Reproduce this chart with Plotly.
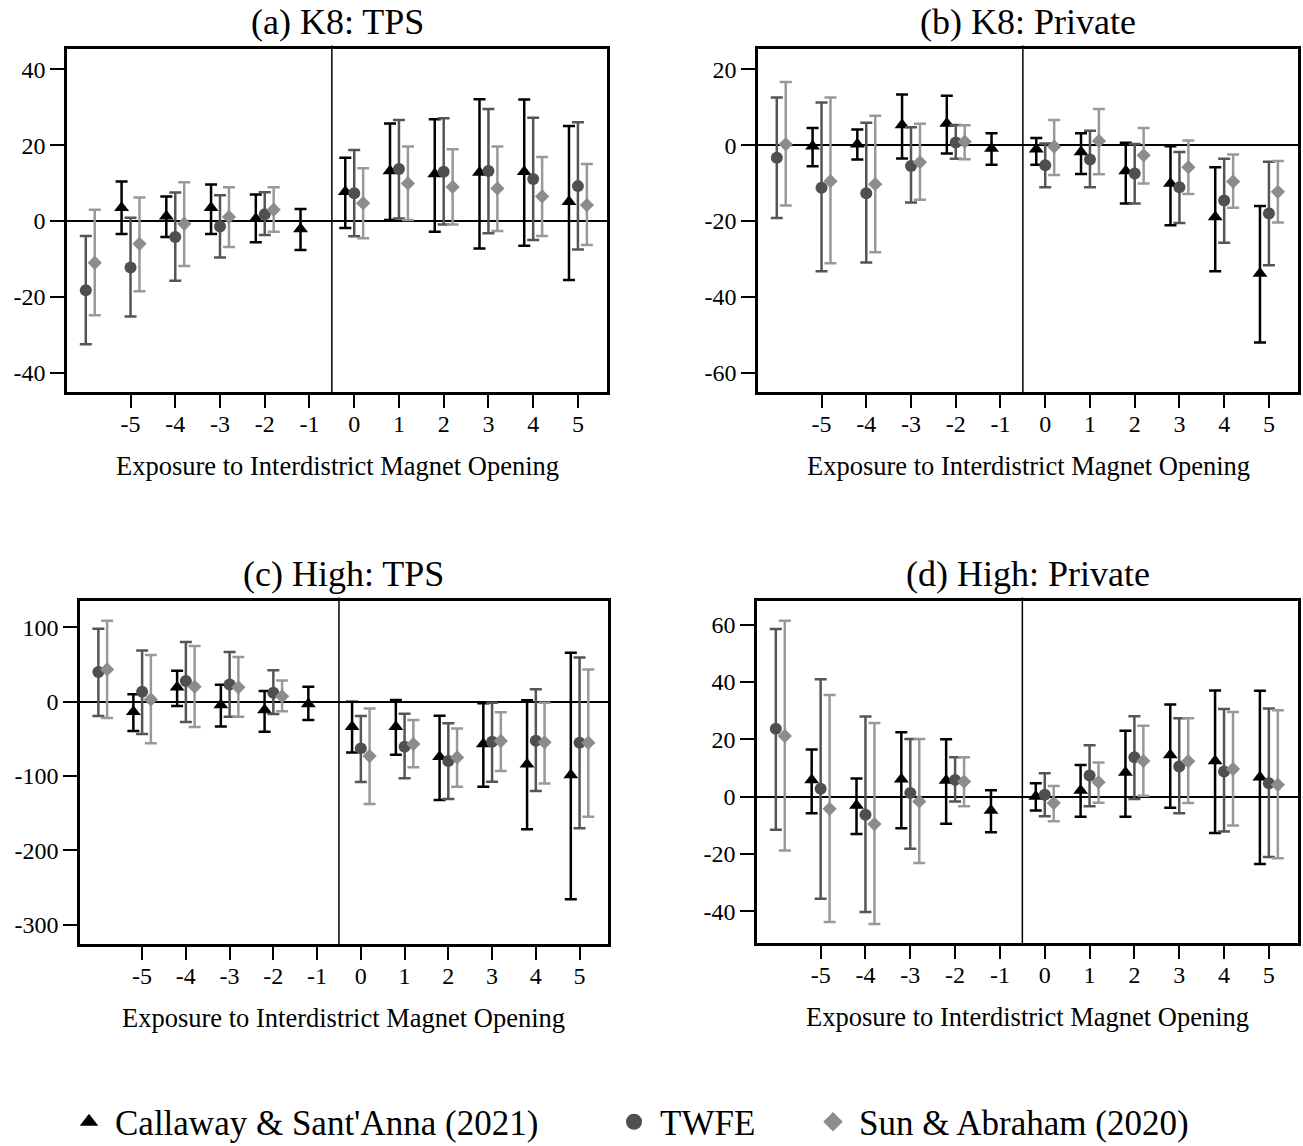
import plotly.graph_objects as go

# Event times: Callaway & Sant'Anna reports -5..5, TWFE and Sun & Abraham bin -6 and omit -1
cs_times = [-5, -4, -3, -2, -1, 0, 1, 2, 3, 4, 5]
tw_times = [-6, -5, -4, -3, -2, 0, 1, 2, 3, 4, 5]
tick_vals = [-5, -4, -3, -2, -1, 0, 1, 2, 3, 4, 5]
tick_text = ["-5", "-4", "-3", "-2", "-1", "0", "1", "2", "3", "4", "5"]

# (a) K8: TPS
a_cs_est = [3.5, 1.3, 3.5, 0.6, -2.1, 7.7, 13.2, 12.4, 12.8, 13.0, 5.1]
a_cs_lo = [-3.4, -4.2, -3.4, -5.6, -7.6, -1.8, 0.3, -2.8, -7.2, -6.5, -15.5]
a_cs_hi = [10.4, 6.5, 9.6, 7.0, 3.2, 16.7, 25.7, 26.8, 32.1, 32.0, 25.0]
a_tw_est = [-18.2, -12.2, -4.2, -1.4, 1.8, 7.3, 13.7, 13.0, 13.2, 11.1, 9.2]
a_tw_lo = [-32.4, -25.1, -15.7, -9.6, -3.7, -4.0, 0.7, -0.9, -3.2, -5.0, -7.5]
a_tw_hi = [-3.9, 0.9, 7.5, 6.8, 7.6, 18.7, 26.6, 27.1, 29.5, 27.2, 26.0]
a_sa_est = [-11.0, -6.0, -0.7, 1.1, 3.0, 4.7, 9.9, 9.0, 8.6, 6.5, 4.2]
a_sa_lo = [-24.8, -18.5, -11.8, -6.8, -2.8, -4.5, 0.3, -0.9, -2.6, -3.9, -6.3]
a_sa_hi = [3.0, 6.2, 10.2, 8.9, 8.9, 13.9, 19.6, 18.9, 19.6, 16.9, 15.0]

# (b) K8: Private
b_cs_est = [-0.3, 0.2, 5.3, 5.7, -0.9, -1.1, -1.8, -6.8, -10.1, -18.9, -33.8]
b_cs_lo = [-5.6, -3.8, -3.5, -2.2, -5.2, -5.2, -7.6, -15.4, -21.1, -33.2, -52.0]
b_cs_hi = [4.5, 4.1, 13.3, 13.0, 3.1, 1.9, 3.1, 0.6, -0.3, -5.8, -16.0]
b_tw_est = [-3.3, -11.2, -12.7, -5.5, 0.7, -5.3, -3.8, -7.5, -11.1, -14.6, -18.0]
b_tw_lo = [-19.2, -33.2, -30.9, -15.1, -3.6, -11.1, -11.1, -15.4, -20.5, -25.7, -31.6]
b_tw_hi = [12.5, 11.2, 5.9, 4.7, 5.3, 0.4, 3.8, 0.3, -1.8, -3.6, -4.4]
b_sa_est = [0.2, -9.5, -10.3, -4.5, 0.9, -0.4, 1.1, -2.7, -5.8, -9.6, -12.3]
b_sa_lo = [-15.9, -31.1, -28.2, -14.4, -3.7, -7.9, -7.7, -10.1, -12.9, -16.5, -20.4]
b_sa_hi = [16.6, 12.5, 7.7, 5.6, 5.2, 6.6, 9.5, 4.5, 1.2, -2.5, -4.2]

# (c) High: TPS
c_cs_est = [-13.5, 19.3, -4.5, -11.2, -3.1, -33.6, -33.6, -74.0, -57.0, -84.3, -98.7]
c_cs_lo = [-39.5, -5.8, -33.2, -40.4, -24.7, -68.2, -71.3, -132.3, -114.3, -171.7, -265.9]
c_cs_hi = [9.9, 41.7, 22.9, 14.3, 20.2, 0.0, 2.2, -18.8, -2.2, 1.8, 65.9]
c_tw_est = [39.9, 13.5, 27.8, 23.3, 12.1, -62.8, -60.5, -79.8, -53.8, -52.5, -55.2]
c_tw_lo = [-19.3, -43.5, -27.4, -20.2, -16.6, -108.0, -103.0, -131.0, -107.6, -120.2, -170.4]
c_tw_hi = [98.2, 69.0, 80.3, 66.8, 42.2, -19.3, -16.1, -29.1, -1.3, 16.6, 59.6]
c_sa_est = [43.5, 3.1, 20.2, 19.3, 7.2, -73.1, -57.0, -74.9, -52.9, -54.7, -55.2]
c_sa_lo = [-22.0, -56.0, -34.1, -20.2, -13.0, -137.7, -88.3, -114.3, -93.3, -109.9, -154.7]
c_sa_hi = [109.0, 62.8, 74.9, 60.1, 28.7, -9.0, -24.7, -35.9, -14.3, -1.3, 43.5]

# (d) High: Private
d_cs_est = [5.8, -3.1, 6.0, 5.6, -4.9, 0.0, 2.1, 8.4, 14.5, 12.4, 6.7]
d_cs_lo = [-5.8, -13.1, -11.1, -9.5, -12.5, -4.9, -7.1, -7.1, -3.9, -12.7, -23.5]
d_cs_hi = [16.4, 6.3, 22.4, 20.0, 2.2, 4.6, 11.0, 22.9, 32.1, 37.0, 36.9]
d_tw_est = [23.6, 2.7, -6.4, 1.2, 5.8, 0.6, 7.3, 13.7, 10.5, 8.7, 4.6]
d_tw_lo = [-11.6, -35.7, -40.3, -18.2, -1.7, -6.9, -3.4, -0.9, -5.8, -12.2, -21.1]
d_tw_hi = [58.4, 40.9, 27.9, 20.1, 13.7, 8.1, 17.9, 28.0, 27.3, 30.5, 30.7]
d_sa_est = [21.1, -4.3, -9.6, -1.7, 5.2, -2.3, 5.0, 12.4, 12.3, 9.6, 4.1]
d_sa_lo = [-18.8, -43.8, -44.5, -23.2, -3.4, -8.6, -2.2, 0.3, -2.3, -10.1, -21.5]
d_sa_hi = [61.3, 35.4, 25.6, 20.1, 13.7, 3.7, 11.9, 24.7, 27.3, 29.5, 30.1]

panel_titles = ["(a) K8: TPS", "(b) K8: Private", "(c) High: TPS", "(d) High: Private"]
x_title = "Exposure to Interdistrict Magnet Opening"
legend_names = ["Callaway & Sant'Anna (2021)", "TWFE", "Sun & Abraham (2020)"]

a_yticks = [-40, -20, 0, 20, 40]
b_yticks = [-60, -40, -20, 0, 20]
c_yticks = [-300, -200, -100, 0, 100]
d_yticks = [-40, -20, 0, 20, 40, 60]

FONT = "Liberation Serif"
W, H = 1303, 1146

# panel geometry in pixels: (left, right, top, bottom), y range
panels = [
    dict(box=(67, 607, 49, 392), yr=[-45.0, 45.3], yt=a_yticks,
         cs=(a_cs_est, a_cs_lo, a_cs_hi), tw=(a_tw_est, a_tw_lo, a_tw_hi), sa=(a_sa_est, a_sa_lo, a_sa_hi)),
    dict(box=(758, 1298, 49, 392), yr=[-65.0, 25.3], yt=b_yticks,
         cs=(b_cs_est, b_cs_lo, b_cs_hi), tw=(b_tw_est, b_tw_lo, b_tw_hi), sa=(b_sa_est, b_sa_lo, b_sa_hi)),
    dict(box=(80, 608, 601, 944), yr=[-326.0, 135.5], yt=c_yticks,
         cs=(c_cs_est, c_cs_lo, c_cs_hi), tw=(c_tw_est, c_tw_lo, c_tw_hi), sa=(c_sa_est, c_sa_lo, c_sa_hi)),
    dict(box=(757, 1298, 601, 943), yr=[-51.1, 68.2], yt=d_yticks,
         cs=(d_cs_est, d_cs_lo, d_cs_hi), tw=(d_tw_est, d_tw_lo, d_tw_hi), sa=(d_sa_est, d_sa_lo, d_sa_hi)),
]

series_style = [
    # key, times, x offset, marker symbol, size, marker colour, bar colour
    ("cs", cs_times, -0.2, "triangle-up", 13, "#000000", "#000000"),
    ("tw", tw_times, 0.0, "circle", 12, "#4f4f4f", "#555555"),
    ("sa", tw_times, 0.2, "diamond", 11, "#8c8c8c", "#999999"),
]

fig = go.Figure()
layout = {}
annotations = []
shapes = []

for i, p in enumerate(panels):
    n = "" if i == 0 else str(i + 1)
    xa, ya = "x" + n, "y" + n
    l, r, t, b = p["box"]
    xdom = [l / W, r / W]
    ydom = [1 - b / H, 1 - t / H]
    for key, times, off, sym, size, mcol, bcol in series_style:
        est, lo, hi = p[key]
        fig.add_trace(go.Scatter(
            x=[k + off for k in times], y=est, mode="markers",
            marker=dict(symbol=sym, size=size, color=mcol, line=dict(width=0)),
            error_y=dict(type="data", symmetric=False,
                         array=[h - e for h, e in zip(hi, est)],
                         arrayminus=[e - lo_ for e, lo_ in zip(est, lo)],
                         color=bcol, thickness=2.5, width=6),
            xaxis=xa, yaxis=ya, showlegend=False, hoverinfo="skip"))
    layout["xaxis" + n] = dict(
        domain=xdom, anchor=ya, range=[-6.42, 5.65], tickvals=tick_vals, ticktext=tick_text,
        ticks="outside", ticklen=13, tickwidth=2, tickcolor="black", ticklabelstandoff=-5,
        showline=True, mirror=True, linewidth=2.5, linecolor="black",
        showgrid=False, zeroline=False, tickfont=dict(family=FONT, size=24, color="black"))
    layout["yaxis" + n] = dict(
        domain=ydom, anchor=xa, range=p["yr"], tickvals=p["yt"],
        ticktext=[str(v) for v in p["yt"]],
        ticks="outside", ticklen=14, tickwidth=2, tickcolor="black",
        showline=True, mirror=True, linewidth=2.5, linecolor="black",
        showgrid=False, zeroline=True, zerolinecolor="black", zerolinewidth=1.5,
        tickfont=dict(family=FONT, size=24, color="black"))
    # treatment onset marker between -1 and 0
    shapes.append(dict(type="line", xref=xa, yref=ya + " domain", x0=-0.5, x1=-0.5, y0=0, y1=1.01,
                       line=dict(color="black", width=1.5), layer="below"))
    cx = (l + r) / 2 / W
    annotations.append(dict(text=panel_titles[i], x=cx, y=1 - (t - 27) / H, xref="paper", yref="paper",
                            xanchor="center", yanchor="middle", showarrow=False,
                            font=dict(family=FONT, size=36, color="black")))
    annotations.append(dict(text=x_title, x=cx, y=1 - (b + 74) / H, xref="paper", yref="paper",
                            xanchor="center", yanchor="middle", showarrow=False,
                            font=dict(family=FONT, size=26.5, color="black")))

# legend entries, one legend box per entry so each can sit at its own position
legend_x = [63, 608, 807]
legend_keys = ["legend", "legend2", "legend3"]
for (key, times, off, sym, size, mcol, bcol), name, lk in zip(series_style, legend_names, legend_keys):
    fig.add_trace(go.Scatter(x=[None], y=[None], mode="markers", name=name,
                             marker=dict(symbol=sym, size=size + 4, color=mcol),
                             showlegend=True, legend=lk))
for lk, lx in zip(legend_keys, legend_x):
    layout[lk] = dict(x=lx / W, y=1 - 1122 / H, xanchor="left", yanchor="middle",
                      orientation="h", bgcolor="rgba(0,0,0,0)", borderwidth=0,
                      font=dict(family=FONT, size=35, color="black"), itemwidth=42)

fig.update_layout(**layout)
fig.update_layout(width=W, height=H, margin=dict(l=0, r=0, t=0, b=0, autoexpand=False),
                  paper_bgcolor="white", plot_bgcolor="white",
                  annotations=annotations, shapes=shapes,
                  font=dict(family=FONT, color="black"))

fig.write_html("out.html")
